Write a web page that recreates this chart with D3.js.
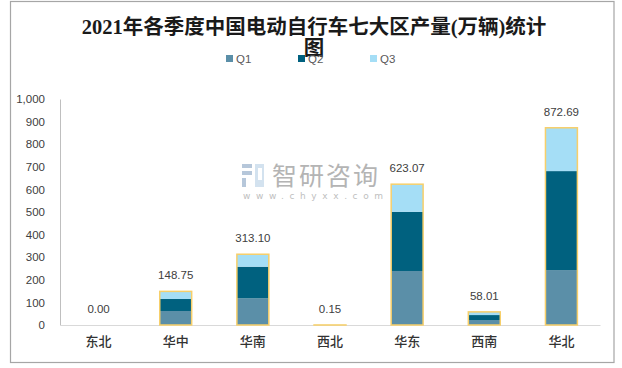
<!DOCTYPE html>
<html><head><meta charset="utf-8">
<script src="https://cdn.jsdelivr.net/npm/d3@7"></script>
<style>
html,body{margin:0;padding:0;background:#fff;}
svg{display:block;}
</style></head>
<body>
<svg id="chart" width="622" height="368"></svg>
<script>
const categories = ["东北","华中","华南","西北","华东","西南","华北"];
const seriesNames = ["Q1","Q2","Q3"];
const q1 = [0, 62, 118, 0.05, 239, 22, 243];
const q2 = [0, 53, 140, 0.05, 262, 22, 438];
const q3 = [0, 33.75, 55.1, 0.05, 122.07, 14.01, 191.69];
const totals = [0.00, 148.75, 313.10, 0.15, 623.07, 58.01, 872.69];
const yTicks = [0,100,200,300,400,500,600,700,800,900,1000];
const colors = ["#5B8FA8", "#00617F", "#A5DEF6"];
const titleLines = ["2021年各季度中国电动自行车七大区产量(万辆)统计", "图"];

const svg = d3.select("#chart");
const cjk = "'Noto Sans CJK SC', 'Noto Sans', sans-serif";

// frame
svg.append("rect").attr("x",10.5).attr("y",1.5).attr("width",603.5).attr("height",361)
  .attr("fill","#fff").attr("stroke","#a6a6a6").attr("stroke-width",1.2);

// title
svg.append("text").attr("text-anchor","middle")
  .attr("font-family","'Liberation Serif', 'Noto Sans CJK SC', serif")
  .attr("font-weight","bold").attr("font-size",20.5).attr("fill","#1a1a1a")
  .selectAll("tspan").data(titleLines).join("tspan")
  .attr("x",314).attr("y",(d,i)=>34+i*21).text(d=>d);

// legend
const lg = svg.append("g");
seriesNames.forEach((s,i)=>{
  const x0 = 226 + i*72;
  lg.append("rect").attr("x",x0).attr("y",55).attr("width",7).attr("height",7).attr("fill",colors[i]);
  lg.append("text").attr("x",x0+10).attr("y",63).attr("font-family","'Liberation Sans', Arial, sans-serif")
    .attr("font-size",11.5).attr("fill","#595959").text(s);
});

// watermark
const wm = svg.append("g");
wm.append("rect").attr("x",242).attr("y",164).attr("width",10).attr("height",4).attr("fill","#b6c7da");
wm.append("rect").attr("x",242).attr("y",171).attr("width",10).attr("height",4).attr("fill","#b6c7da");
wm.append("rect").attr("x",242).attr("y",178).attr("width",4).attr("height",9).attr("fill","#b6c7da");
wm.append("rect").attr("x",255).attr("y",164).attr("width",9).attr("height",23).attr("fill","#d3e2ef");
wm.append("rect").attr("x",258).attr("y",168).attr("width",4).attr("height",12).attr("fill","#fff");
wm.append("text").attr("x",272).attr("y",185).attr("font-family",cjk).attr("font-size",25)
  .attr("fill","#b4b4b4").attr("letter-spacing",2).text("智研咨询");
wm.append("text").attr("x",243).attr("y",199).attr("font-family","'DejaVu Sans', sans-serif").attr("font-size",9)
  .attr("fill","#c0c0c0").attr("letter-spacing",5.6).text("www.chyxx.com");

// scales
const x = d3.scaleBand().domain(categories).range([60,600]).paddingInner(0.586).paddingOuter(0.293);
const y = d3.scaleLinear().domain([0,1000]).range([325,99]);

// y axis
const ya = svg.append("g").attr("transform","translate(60,0)")
  .call(d3.axisLeft(y).tickValues(yTicks).tickFormat(d3.format(",")).tickSize(0).tickPadding(15));
ya.select(".domain").attr("stroke","#bfbfbf");
ya.selectAll("text").attr("font-family","'Liberation Sans', Arial, sans-serif").attr("font-size",11.5).attr("fill","#404040");

// x baseline
const xa = svg.append("g").attr("transform","translate(0,325)")
  .call(d3.axisBottom(x).tickSize(0).tickPadding(12));
xa.select(".domain").attr("stroke","#d9d9d9").attr("stroke-width",1);
xa.selectAll("text").attr("font-family",cjk).attr("font-size",13).attr("font-weight","500").attr("fill","#333");

// stacked bars
const rows = categories.map((c,i)=>({cat:c, Q1:q1[i], Q2:q2[i], Q3:q3[i]}));
const stack = d3.stack().keys(seriesNames)(rows);
svg.append("g").selectAll("g").data(stack).join("g")
  .attr("fill",(d,i)=>colors[i])
  .selectAll("rect").data(d=>d).join("rect")
  .attr("x",d=>x(d.data.cat)).attr("width",x.bandwidth())
  .attr("y",d=>y(d[1])).attr("height",d=>y(d[0])-y(d[1]));

// total outline
svg.append("g").selectAll("rect").data(totals.map((t,i)=>({cat:categories[i], t}))).join("rect")
  .filter(d=>d.t>0)
  .attr("x",d=>x(d.cat)).attr("width",x.bandwidth())
  .attr("y",d=>y(d.t)).attr("height",d=>Math.max(0,y(0)-y(d.t)))
  .attr("fill","none").attr("stroke","#F7CF6A").attr("stroke-width",1.5);

// total labels
svg.append("g").selectAll("text").data(totals.map((t,i)=>({cat:categories[i], t}))).join("text")
  .attr("x",d=>x(d.cat)+x.bandwidth()/2).attr("y",d=>y(d.t)-12)
  .attr("text-anchor","middle").attr("font-family","'Liberation Sans', Arial, sans-serif")
  .attr("font-size",11.5).attr("fill","#404040").text(d=>d3.format(".2f")(d.t));
</script>
</body></html>
